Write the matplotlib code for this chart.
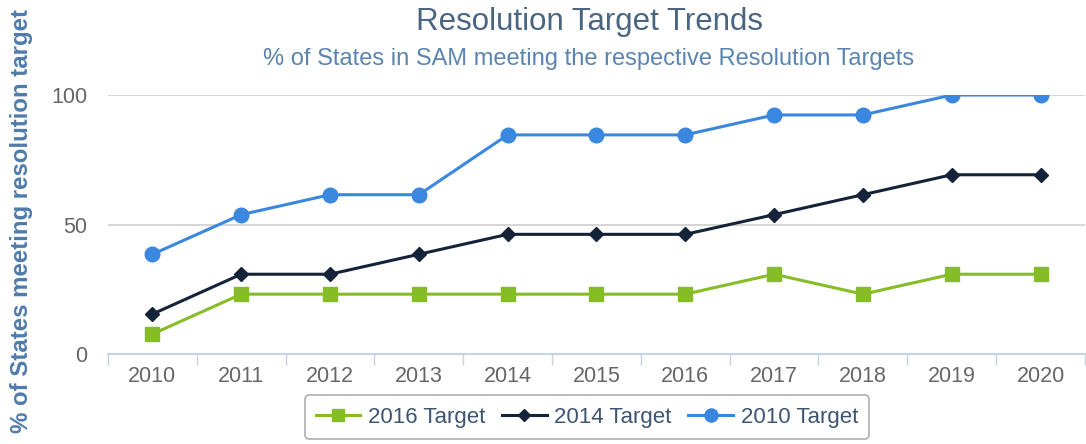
import numpy as np
import matplotlib.pyplot as plt

plt.rcParams['font.family'] = ['Liberation Sans', 'DejaVu Sans']

years = ['2010', '2011', '2012', '2013', '2014', '2015', '2016', '2017', '2018', '2019', '2020']
target_2016 = [7.7, 23.1, 23.1, 23.1, 23.1, 23.1, 23.1, 30.8, 23.1, 30.8, 30.8]
target_2014 = [15.4, 30.8, 30.8, 38.5, 46.2, 46.2, 46.2, 53.8, 61.5, 69.2, 69.2]
target_2010 = [38.5, 53.8, 61.5, 61.5, 84.6, 84.6, 84.6, 92.3, 92.3, 100, 100]

fig = plt.figure(figsize=(10.86, 4.44), dpi=100)
ax = fig.add_axes([108 / 1086, 1 - 354 / 444, 1 - 108 / 1086 - 0.001, (354 - 95) / 444])

x = np.arange(len(years))
ax.plot(x, target_2016, color='#86bc25', lw=2.2, marker='s', ms=10, label='2016 Target', zorder=3)
ax.plot(x, target_2014, color='#14233a', lw=2.2, marker='D', ms=7, label='2014 Target', zorder=3)
ax.plot(x, target_2010, color='#3a87e0', lw=2.2, marker='o', ms=10.5, label='2010 Target', zorder=3)

ax.set_xlim(-0.5, len(years) - 0.5)
ax.set_ylim(0, 100)
ax.set_xticks(x)
ax.set_xticklabels(years)
ax.set_xticks(np.arange(-0.5, len(years), 1), minor=True)
ax.tick_params(axis='x', which='major', length=0, pad=9, labelsize=15.5, labelcolor='#666666')
ax.tick_params(axis='x', which='minor', length=8, color='#c5d3e2', width=1)
ax.set_yticks([0, 50, 100])
ax.tick_params(axis='y', length=0, pad=15, labelsize=15.5, labelcolor='#666666')
ax.grid(axis='y', color='#d6d6d6', lw=1.5)
ax.set_axisbelow(True)
for s in ['top', 'right', 'left']:
    ax.spines[s].set_visible(False)
ax.spines['bottom'].set_color('#c5d3e2')
ax.spines['bottom'].set_linewidth(1.5)
ax.spines['bottom'].set_zorder(4)

fig.text(590 / 1086, 1 - 22 / 444, 'Resolution Target Trends', ha='center', va='center',
         fontsize=22.5, color='#4a6582')
fig.text(589 / 1086, 1 - 59 / 444, '% of States in SAM meeting the respective Resolution Targets',
         ha='center', va='center', fontsize=17, color='#5b84b1')
fig.text(22 / 1086, 1 - 221 / 444, '% of States meeting resolution target', rotation=90, ha='center',
         va='center', fontsize=17.3, fontweight='bold', color='#4f7bab')

leg = ax.legend(loc='center', bbox_to_anchor=(587 / 1086, 1 - 417 / 444), bbox_transform=fig.transFigure,
                ncol=3, frameon=True, fontsize=16, handlelength=2.0, columnspacing=0.75,
                handletextpad=0.35, borderpad=0.5, fancybox=True, labelcolor='#3d5573',
                markerscale=0.9)
leg.get_frame().set_edgecolor('#9a9a9a')
leg.get_frame().set_linewidth(1.2)

fig.savefig('out.png', dpi=100)
